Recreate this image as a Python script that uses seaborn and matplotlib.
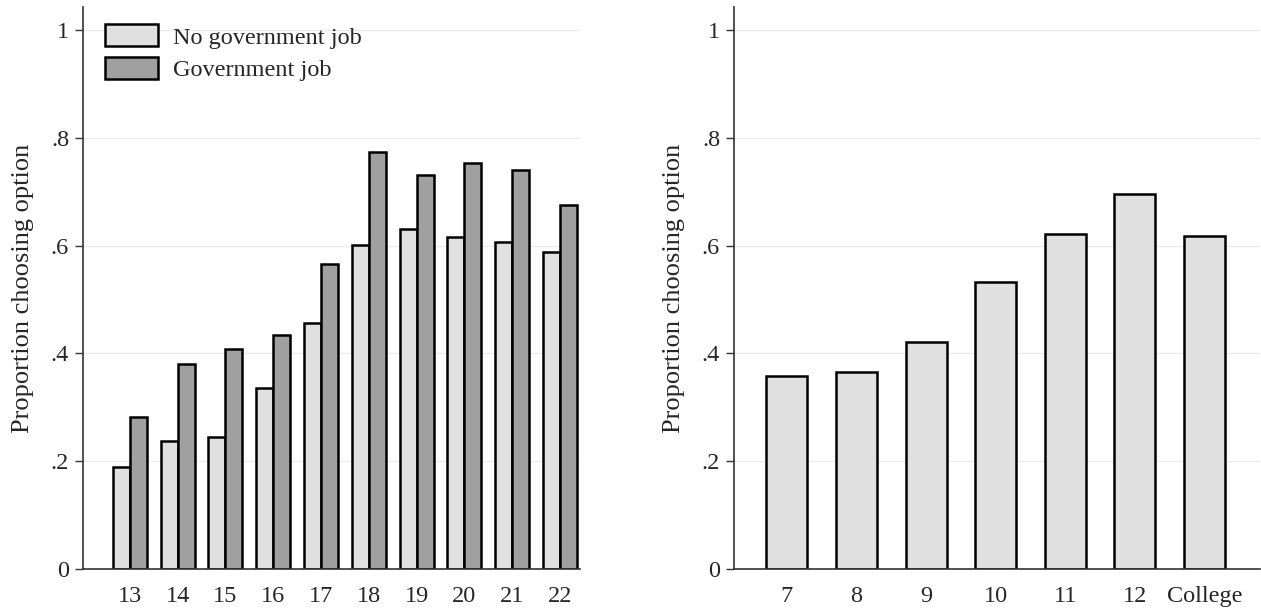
import pandas as pd
import matplotlib
matplotlib.use("Agg")
import matplotlib.pyplot as plt
import seaborn as sns

# data
ages = ["13", "14", "15", "16", "17", "18", "19", "20", "21", "22"]
no_gov_job = [0.189, 0.237, 0.245, 0.336, 0.456, 0.601, 0.631, 0.616, 0.607, 0.588]
gov_job = [0.282, 0.380, 0.408, 0.434, 0.566, 0.774, 0.731, 0.753, 0.740, 0.675]
series_names = ["No government job", "Government job"]

grades = ["7", "8", "9", "10", "11", "12", "College"]
grade_share = [0.358, 0.365, 0.421, 0.532, 0.621, 0.696, 0.618]

yticks = [0, 0.2, 0.4, 0.6, 0.8, 1]
ytick_labels = ["0", ".2", ".4", ".6", ".8", "1"]
ylabel = "Proportion choosing option"

light = "#e0e0e0"
dark = "#a0a0a0"

sns.set_style("white")
plt.rcParams["font.family"] = ["Liberation Serif", "DejaVu Serif"]

df_left = pd.DataFrame({
    "age": ages * 2,
    "share": no_gov_job + gov_job,
    "group": [series_names[0]] * len(ages) + [series_names[1]] * len(ages),
})
df_right = pd.DataFrame({"grade": grades, "share": grade_share})

fig = plt.figure(figsize=(12.61, 6.10), dpi=100)
ax1 = fig.add_axes([83 / 1261, 41 / 610, 497 / 1261, 562 / 610])
ax2 = fig.add_axes([734 / 1261, 41 / 610, 526 / 1261, 562 / 610])

sns.barplot(
    data=df_left, x="age", y="share", hue="group",
    palette=[light, dark], width=0.71, ax=ax1,
    edgecolor="black", linewidth=1.8, saturation=1, errorbar=None,
)
sns.barplot(
    data=df_right, x="grade", y="share", color=light, width=0.59, ax=ax2,
    edgecolor="black", linewidth=1.8, saturation=1, errorbar=None,
)

ax1.set_xlim(-0.98, 9.42)
ax2.set_xlim(-0.76, 6.8)

for ax in (ax1, ax2):
    ax.set_ylim(0, 1.043)
    ax.set_yticks(yticks)
    ax.set_yticklabels(ytick_labels)
    ax.set_ylabel(ylabel, fontsize=19, labelpad=12)
    ax.set_xlabel("")
    ax.yaxis.grid(True, color="#ebebeb", linewidth=0.9)
    ax.set_axisbelow(True)
    sns.despine(ax=ax)
    ax.spines["left"].set_color("#333333")
    ax.spines["bottom"].set_color("#333333")
    ax.spines["left"].set_linewidth(1.2)
    ax.spines["bottom"].set_linewidth(1.2)
    ax.tick_params(axis="y", length=6, width=1, color="#333333", pad=4, labelsize=17.5, left=True)
    ax.tick_params(axis="x", length=0, pad=12, labelsize=17.5)

leg = ax1.legend(
    loc="upper left", bbox_to_anchor=(0.0, 1.008), frameon=False, fontsize=17.5,
    handlelength=2.2, handleheight=1.0, handletextpad=0.6, labelspacing=0.35,
)

plt.savefig("out.png", dpi=100)
